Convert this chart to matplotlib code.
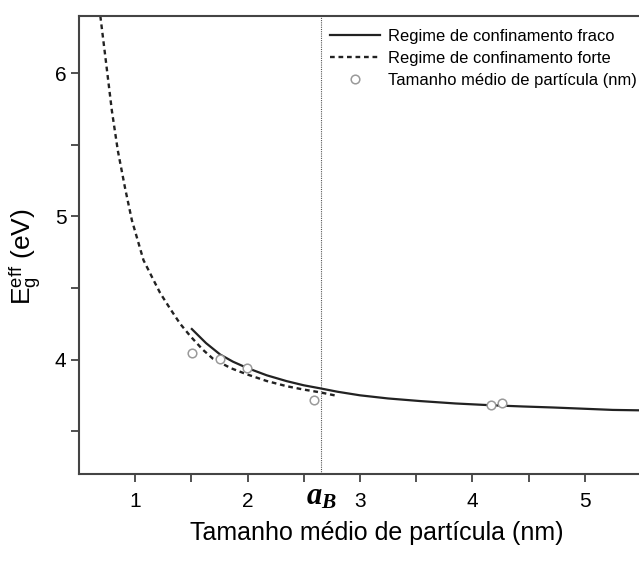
import matplotlib.pyplot as plt

plt.rcParams['font.family'] = ['Liberation Sans', 'DejaVu Sans']
plt.rcParams['mathtext.fontset'] = 'custom'
plt.rcParams['mathtext.rm'] = 'Liberation Sans'
plt.rcParams['mathtext.it'] = 'Liberation Serif:italic:bold'

# Strong confinement regime (dashed)
strong_x = [0.69, 0.74, 0.793, 0.846, 0.911, 0.971, 1.074, 1.16, 1.222, 1.311, 1.40,
            1.489, 1.60, 1.693, 1.85, 1.996, 2.17, 2.351, 2.50, 2.644, 2.804]
strong_y = [6.40, 6.08, 5.736, 5.458, 5.194, 4.972, 4.694, 4.56, 4.465, 4.355, 4.25,
            4.165, 4.07, 4.005, 3.94, 3.896, 3.85, 3.813, 3.79, 3.771, 3.745]

# Weak confinement regime (solid)
weak_x = [1.504, 1.63, 1.756, 1.87, 1.993, 2.17, 2.348, 2.50, 2.644, 2.80,
          3.0, 3.25, 3.533, 3.85, 4.156, 4.45, 4.716, 5.0, 5.249, 5.5]
weak_y = [4.213, 4.115, 4.035, 3.985, 3.942, 3.89, 3.849, 3.82, 3.799, 3.775,
          3.750, 3.728, 3.710, 3.693, 3.681, 3.672, 3.665, 3.656, 3.648, 3.645]

# Mean particle size points
size_x = [1.504, 1.756, 1.993, 2.591, 4.162, 4.26]
size_y = [4.047, 4.007, 3.9375, 3.715, 3.683, 3.699]

bohr_radius = 2.653

fig = plt.figure(figsize=(6.39, 5.61), dpi=100)
ax = fig.add_axes([0.1236, 0.155, 0.8795, 0.8165])

ax.plot(weak_x, weak_y, color='#222222', lw=1.6, label='Regime de confinamento fraco')
ax.plot(strong_x, strong_y, color='#222222', lw=1.7, linestyle=(0, (2.0, 1.6)),
        label='Regime de confinamento forte')
ax.plot(size_x, size_y, 'o', ms=6.2, mfc='white', mec='#9a9a9a', mew=1.1, lw=0,
        label='Tamanho médio de partícula (nm)')
ax.axvline(bohr_radius, color='#555555', lw=0.8, linestyle=(0, (1, 1)))

ax.set_xlim(0.5, 5.5)
ax.set_ylim(3.2, 6.4)
ax.set_xticks([1, 2, 3, 4, 5])
ax.set_xticks([1.5, 2.5, 3.5, 4.5], minor=True)
ax.set_yticks([4, 5, 6])
ax.set_yticks([3.5, 4.5, 5.5], minor=True)
ax.tick_params(which='both', direction='out', length=6, width=1.2, color='#333333',
               labelsize=15)
ax.tick_params(axis='x', pad=7)
ax.tick_params(axis='y', pad=3)
for spine in ax.spines.values():
    spine.set_color('#444444')
    spine.set_linewidth(1.5)

ax.text(bohr_radius, -0.05, r'$a_B$', transform=ax.get_xaxis_transform(),
        ha='center', va='center', fontsize=22)

ax.set_xlabel('Tamanho médio de partícula (nm)', fontsize=18)
ax.xaxis.set_label_coords(0.53, -0.103)
ax.set_ylabel(r'$\mathrm{E}_\mathrm{g}^\mathrm{eff}$ (eV)', fontsize=19)
ax.yaxis.set_label_coords(-0.063, 0.474)

ax.legend(loc='upper left', bbox_to_anchor=(0.447, 0.972), frameon=False,
          fontsize=11.9, handlelength=3.0, handletextpad=0.5, labelspacing=0.42,
          borderpad=0, borderaxespad=0)

plt.savefig('out.png', dpi=100)
